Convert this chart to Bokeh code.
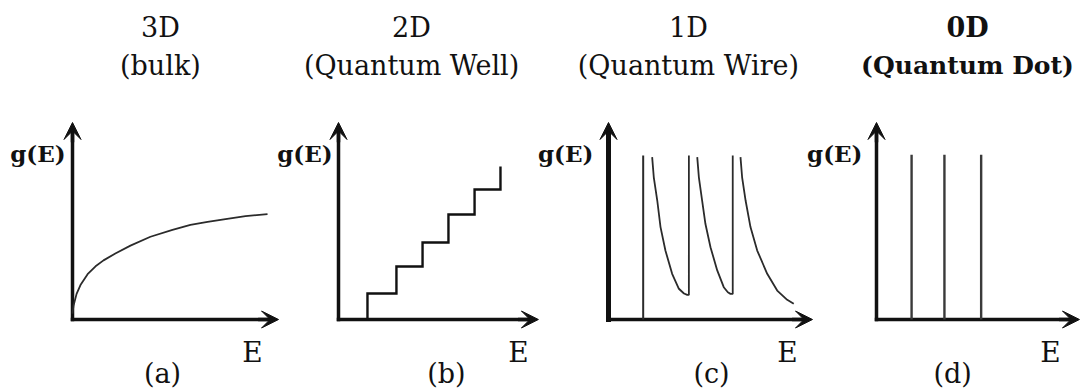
from bokeh.plotting import figure
from bokeh.models import Range1d, Arrow, VeeHead
from bokeh.core.properties import value
from bokeh.embed import file_html
from bokeh.resources import INLINE

# ---------------------------------------------------------------------------
# Content: density of states g(E) for 3D, 2D, 1D and 0D systems
# ---------------------------------------------------------------------------
PANELS = ["a", "b", "c", "d"]
TITLES = ["3D", "2D", "1D", "0D"]
SUBTITLES = ["(bulk)", "(Quantum Well)", "(Quantum Wire)", "(Quantum Dot)"]
TAGS = ["(a)", "(b)", "(c)", "(d)"]
Y_LABEL = "g(E)"
X_LABEL = "E"

# (a) bulk: square-root-like rise
BULK_E = [0.05, 0.20, 0.39, 0.74, 1.13, 1.52, 2.10, 2.84, 3.82, 4.90, 5.78, 6.62, 7.50, 8.48, 9.56]
BULK_G = [0.70, 1.30, 1.75, 2.30, 2.70, 3.00, 3.35, 3.75, 4.20, 4.55, 4.80, 4.95, 5.10, 5.25, 5.35]

# (b) quantum well: step edges and plateau heights
WELL_EDGE_E = [1.42, 2.84, 4.12, 5.39, 6.67, 7.94]
WELL_LEVEL_G = [1.32, 2.69, 3.91, 5.33, 6.60, 7.77]

# (c) quantum wire: sub-band edges and the decaying tails after each edge
WIRE_EDGE_E = [1.70, 3.94, 6.09]
WIRE_PEAK_G = 8.32
WIRE_TAIL1_E = [2.14, 2.22, 2.39, 2.55, 2.79, 3.12, 3.45, 3.70, 3.86]
WIRE_TAIL1_G = [8.24, 7.22, 6.04, 4.69, 3.50, 2.32, 1.56, 1.32, 1.25]
WIRE_TAIL2_E = [4.35, 4.43, 4.59, 4.75, 5.00, 5.33, 5.65, 5.85, 5.98]
WIRE_TAIL2_G = [8.24, 7.22, 6.04, 4.86, 3.67, 2.49, 1.64, 1.38, 1.30]
WIRE_TAIL3_E = [6.47, 6.55, 6.72, 6.96, 7.29, 7.78, 8.27, 8.76, 9.08]
WIRE_TAIL3_G = [8.24, 7.22, 6.04, 4.69, 3.50, 2.32, 1.47, 1.00, 0.80]

# (d) quantum dot: discrete levels
DOT_E = [1.72, 3.33, 5.13]
DOT_G = 8.36

# ---------------------------------------------------------------------------
# Layout and style
# ---------------------------------------------------------------------------
W, H = 1081, 392
UX, UY = 20.4, 19.7          # pixels per data unit
BASE_ROW = 319               # pixel row of the E axes
ORIGIN_X = {"a": 72, "b": 338, "c": 608, "d": 876}
AXIS_END = {"a": 10.1, "b": 9.8, "c": 10.0, "d": 9.95}
AXIS_TOP = 10.0
AXIS_WIDTHS = {"a": (3.5, 3.5), "b": (3.5, 3.5), "c": (3.5, 5.0), "d": (3.5, 3.5)}

TITLE_X = {"a": 4.31, "b": 3.58, "c": 3.92, "d": 4.46}
YLAB_X = {"a": -0.34, "b": -0.29, "c": -0.74, "d": -0.69}
XLAB_X = {"a": 8.82, "b": 8.82, "c": 8.77, "d": 8.53}
TAG_X = {"a": 4.41, "b": 5.29, "c": 5.05, "d": 3.73}
TITLE_Y, SUBTITLE_Y, YLAB_Y, XLAB_Y, TAG_Y = 14.82, 12.90, 8.43, -1.67, -2.72

INK = "#111111"
CURVE = "#2b2b2b"
SERIF = value("DejaVu Serif")

p = figure(
    width=W, height=H,
    x_range=Range1d(0, W),
    y_range=Range1d(-(H - BASE_ROW) / UY, BASE_ROW / UY),
    output_backend="svg", toolbar_location=None,
    x_axis_location=None, y_axis_location=None,
    min_border=0, outline_line_color=None,
    background_fill_color="white", border_fill_color="white",
)
p.grid.visible = False
p.extra_x_ranges = {
    k: Range1d(-ORIGIN_X[k] / UX, (W - ORIGIN_X[k]) / UX) for k in PANELS
}

# Axes with arrow heads
for k in PANELS:
    wx, wy = AXIS_WIDTHS[k]
    p.line([0, 0], [0, AXIS_TOP - 0.4], line_width=wy, line_color=INK,
           line_cap="square", x_range_name=k)
    p.line([0, AXIS_END[k] - 0.4], [0, 0], line_width=wx, line_color=INK,
           line_cap="square", x_range_name=k)
    p.add_layout(Arrow(end=VeeHead(size=17, fill_color=INK, line_color=INK, line_width=1),
                       x_start=0, y_start=AXIS_TOP - 1.0, x_end=0, y_end=AXIS_TOP,
                       line_width=wy, line_color=INK, x_range_name=k))
    p.add_layout(Arrow(end=VeeHead(size=17, fill_color=INK, line_color=INK, line_width=1),
                       x_start=AXIS_END[k] - 1.0, y_start=0, x_end=AXIS_END[k], y_end=0,
                       line_width=wx, line_color=INK, x_range_name=k))

# (a) bulk curve
p.line([0.0] + BULK_E, [0.3] + BULK_G, line_width=1.8, line_color=CURVE, x_range_name="a")

# (b) staircase built from edges and plateaus
sx, sy = [WELL_EDGE_E[0]], [0.0]
for i, e in enumerate(WELL_EDGE_E):
    sx.append(e)
    sy.append(WELL_LEVEL_G[i])
    if i + 1 < len(WELL_EDGE_E):
        sx.append(WELL_EDGE_E[i + 1])
        sy.append(WELL_LEVEL_G[i])
p.line(sx, sy, line_width=2.4, line_color=INK, line_join="miter", x_range_name="b")

# (c) quantum wire: first edge line, then tails each ending on the next edge
p.line([WIRE_EDGE_E[0], WIRE_EDGE_E[0]], [0, WIRE_PEAK_G],
       line_width=2.0, line_color=CURVE, x_range_name="c")
tails = [(WIRE_TAIL1_E, WIRE_TAIL1_G), (WIRE_TAIL2_E, WIRE_TAIL2_G), (WIRE_TAIL3_E, WIRE_TAIL3_G)]
for i, (te, tg) in enumerate(tails):
    xs, ys = list(te), list(tg)
    if i + 1 < len(WIRE_EDGE_E):
        nxt = WIRE_EDGE_E[i + 1]
        xs += [nxt, nxt]
        ys += [tg[-1], WIRE_PEAK_G]
    p.line(xs, ys, line_width=1.8, line_color=CURVE, x_range_name="c")

# (d) quantum dot: delta-like levels
p.segment(x0=DOT_E, y0=[0] * len(DOT_E), x1=DOT_E, y1=[DOT_G] * len(DOT_E),
          line_width=2.4, line_color="#3a3a3a", x_range_name="d")

# Labels
for i, k in enumerate(PANELS):
    bold = "bold" if TITLES[i] == "0D" else "normal"
    p.text(x=[TITLE_X[k]], y=[TITLE_Y], text=[TITLES[i]], text_font=SERIF,
           text_font_size="27px", text_font_style=bold, text_color=INK,
           text_align="center", text_baseline="alphabetic", x_range_name=k)
    p.text(x=[TITLE_X[k]], y=[SUBTITLE_Y], text=[SUBTITLES[i]], text_font=SERIF,
           text_font_size="25px" if bold == "bold" else "27px", text_font_style=bold,
           text_color=INK, text_align="center", text_baseline="alphabetic", x_range_name=k)
    p.text(x=[YLAB_X[k]], y=[YLAB_Y], text=[Y_LABEL], text_font=SERIF,
           text_font_size="23px", text_font_style="bold", text_color=INK,
           text_align="right", text_baseline="alphabetic", x_range_name=k)
    p.text(x=[XLAB_X[k]], y=[XLAB_Y], text=[X_LABEL], text_font=SERIF,
           text_font_size="28px", text_color=INK,
           text_align="center", text_baseline="alphabetic", x_range_name=k)
    p.text(x=[TAG_X[k]], y=[TAG_Y], text=[TAGS[i]], text_font=SERIF,
           text_font_size="27px", text_color=INK,
           text_align="center", text_baseline="alphabetic", x_range_name=k)

open("out.html", "w").write(file_html(p, INLINE))
